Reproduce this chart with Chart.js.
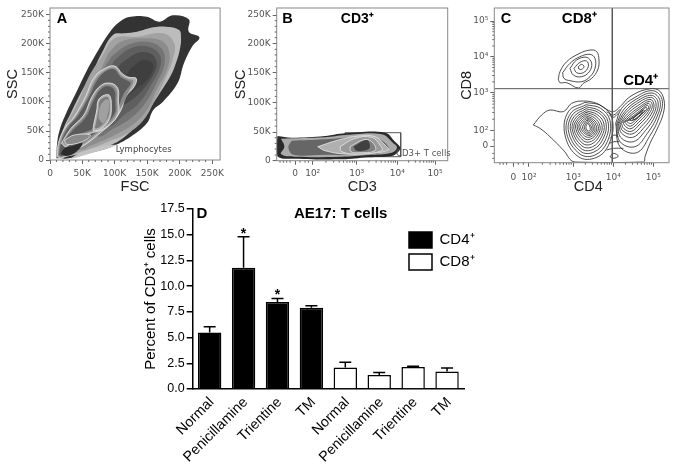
<!DOCTYPE html>
<html>
<head>
<meta charset="utf-8">
<title>AE17: T cells</title>
<script src="https://cdn.jsdelivr.net/npm/chart.js@4"></script>
<style>
  body { margin: 0; background: #fff; }
  canvas { position: absolute; }
</style>
</head>
<body>
<canvas id="panelA" width="228" height="200" style="left:0;top:0"></canvas>
<canvas id="panelB" width="224" height="200" style="left:228px;top:0"></canvas>
<canvas id="panelC" width="225" height="200" style="left:452px;top:0"></canvas>
<canvas id="panelD" width="400" height="272" style="left:130px;top:195px"></canvas>
<script>
// panel D
const categories = ["Normal", "Penicillamine", "Trientine", "TM", "Normal", "Penicillamine", "Trientine", "TM"];
const cd4Values = [5.5, 11.8, 8.45, 7.9, null, null, null, null];
const cd8Values = [null, null, null, null, 2.1, 1.35, 2.15, 1.7];
const errorsUp = [0.55, 3.0, 0.35, 0.2, 0.5, 0.25, 0.05, 0.35];
const stars = ["", "*", "*", "", "", "", "", ""];

// flow panels: axes are in display channels, counted from the top of the plot for y
const fscTicks = [150, 250, 350, 451, 552, 653];
const ssc1Ticks = [480, 393, 305, 218, 130, 44];
const kLabels = ["0", "50K", "100K", "150K", "200K", "250K"];
const cd3Ticks = [210, 263, 395, 517, 630];
const ssc2Ticks = [482, 396, 307, 218, 130, 45];
const cd4Ticks = [190, 237, 370, 490, 610];
const cd8Ticks = [438, 392, 278, 170, 63];
const logLabels = ["0", "10²", "10³", "10⁴", "10⁵"];

// panel A density bands, outermost first
const aOuter = [[170,475],[172,430],[180,390],[200,340],[230,280],[265,210],[300,150],[340,90],[370,62],[400,50],[450,50],[490,65],[530,46],[580,58],[580,95],[613,112],[590,140],[565,190],[545,250],[500,305],[470,330],[450,370],[400,410],[340,440],[270,460],[210,475]];
const aBand1 = [[176,470],[180,430],[192,385],[215,338],[250,270],[282,215],[310,160],[345,105],[380,100],[420,95],[470,82],[510,80],[550,90],[556,115],[552,150],[540,190],[525,225],[490,280],[470,310],[440,355],[400,395],[350,430],[280,452],[210,468]];
const aBand2 = [[310,170],[350,115],[420,110],[500,100],[535,130],[530,180],[510,230],[475,300],[440,360],[390,400],[330,425],[280,445],[230,460],[200,470],[180,460],[190,400],[240,300],[270,230]];
const aBand3 = [[330,160],[370,125],[440,115],[500,125],[520,160],[512,210],[480,270],[450,330],[405,375],[340,410],[280,435],[240,450],[220,440],[250,350],[290,250]];
const aBand4 = [[340,170],[390,135],[450,125],[495,145],[505,190],[480,250],[445,310],[400,355],[340,390],[300,410],[270,380],[290,290],[310,220]];
const aBand5 = [[350,180],[400,145],[455,140],[490,165],[490,205],[460,260],[425,310],[380,345],[330,380],[300,330],[310,250]];
const aBand6 = [[370,190],[420,160],[460,160],[480,185],[475,215],[445,260],[410,295],[370,320],[335,340],[330,270],[345,225]];
const aBand7 = [[400,205],[440,180],[470,195],[455,235],[420,265],[385,285],[380,240]];
const aLobe1 = [[172,470],[176,430],[195,385],[225,350],[260,290],[285,235],[315,208],[350,198],[375,222],[395,232],[417,235],[412,258],[385,290],[370,330],[345,365],[310,395],[265,430],[220,455],[185,475]];
const aLobe1b = [[175,467],[180,430],[200,385],[231,348],[265,291],[290,239],[318,212],[349,203],[372,227],[392,237],[408,242],[395,272],[372,318],[340,363],[305,392],[262,426],[218,451],[187,471]];
const aLobe1c = [[178,465],[184,430],[205,385],[238,345],[270,292],[295,242],[320,215],[348,208],[370,232],[390,242],[400,250],[378,282],[360,325],[335,360],[300,390],[258,422],[215,448],[188,468]];
const aLobe2 = [[185,430],[215,385],[255,345],[280,290],[310,255],[340,250],[360,265],[362,300],[360,345],[320,385],[275,400],[230,415],[200,440]];
const aLobe2b = [[190,425],[218,387],[258,347],[284,293],[311,259],[338,255],[355,268],[357,301],[355,342],[318,380],[272,396],[229,410],[202,434]];
const aLobe2c = [[195,420],[222,390],[262,350],[288,296],[312,264],[336,260],[350,272],[352,302],[350,340],[315,375],[270,392],[228,406]];
const aLobe3 = [[285,375],[295,330],[300,300],[320,285],[335,287],[340,320],[335,355],[310,385],[285,392]];
const aLobe3b = [[292,372],[300,330],[304,303],[321,291],[331,293],[335,320],[330,352],[308,378],[290,385]];
const aLobe4 = [[300,355],[305,320],[320,300],[332,300],[330,340],[315,370]];
const aLow1 = [[195,420],[225,405],[275,405],[260,420],[225,432],[200,432]];
const aLow2 = [[183,462],[195,445],[220,438],[250,430],[232,455],[200,468]];
const aLow3 = [[240,460],[300,440],[352,434],[340,442],[270,462],[215,476]];

// panel B density bands
const bOuter = [[157,408],[200,413],[300,408],[360,400],[480,398],[510,425],[526,443],[520,455],[500,468],[430,472],[350,478],[210,476],[158,470],[155,440]];
const bBand1 = [[168,416],[300,412],[360,405],[470,403],[505,430],[516,443],[500,458],[430,465],[350,470],[210,470],[168,462],[178,440]];
const bBand2 = [[200,422],[300,418],[400,410],[450,412],[490,440],[480,456],[400,464],[300,464],[205,464],[190,442]];
const bLobe1 = [[278,440],[340,420],[400,408],[450,410],[480,435],[490,450],[440,460],[360,462],[300,452]];
const bLobe2 = [[345,440],[390,415],[440,412],[465,435],[470,452],[400,462],[350,455]];
const bLobe3 = [[375,440],[420,418],[445,430],[450,452],[400,458],[378,455]];
const bLobe4 = [[385,440],[425,420],[435,440],[425,450],[395,452]];
const bGate = [[360,398],[527,398],[527,470],[360,470],[360,398]];

// panel C contour lines
const cOuter = [[250,375],[275,345],[300,330],[340,335],[365,310],[400,303],[440,310],[470,328],[490,335],[510,320],[540,290],[590,268],[625,270],[642,300],[640,340],[620,390],[600,430],[585,470],[580,486],[375,486],[340,450],[300,410],[270,385]];
const cTop1 = [[325,238],[330,215],[350,185],[385,162],[420,150],[440,155],[447,180],[443,210],[425,235],[400,250],[385,264],[350,248],[330,248]];
const cTop2 = [[338,218],[360,190],[390,170],[420,163],[435,175],[435,205],[420,230],[395,245],[360,242],[342,235]];
const cTop3 = [[360,205],[380,180],[410,172],[425,190],[418,215],[395,230],[370,225]];
const cTop4 = [[372,205],[390,187],[410,183],[415,200],[400,218],[380,218]];
const cTop5 = [[385,200],[395,193],[402,200],[395,208],[387,207]];
const cLeft1 = [[405,307],[455,318],[487,358],[478,430],[440,472],[385,470],[345,405],[355,335]];
const cLeft2 = [[408,314],[452,325],[480,362],[472,425],[435,465],[390,462],[350,400],[362,340]];
const cLeft3 = [[408,320],[448,332],[474,365],[466,420],[432,456],[392,454],[356,396],[367,345]];
const cLeft4 = [[408,326],[446,338],[468,368],[460,415],[430,448],[394,446],[362,392],[372,350]];
const cLeft5 = [[408,332],[442,344],[462,372],[455,410],[428,440],[396,438],[367,390],[377,354]];
const cLeft6 = [[408,337],[438,349],[456,376],[450,405],[425,432],[398,430],[372,388],[381,358]];
const cLeft7 = [[408,342],[434,354],[450,378],[445,402],[424,424],[400,422],[377,385],[385,361]];
const cLeft8 = [[408,347],[430,358],[445,380],[440,400],[422,417],[402,415],[382,384],[389,364]];
const cLeft9 = [[409,352],[428,362],[440,382],[436,398],[421,411],[404,408],[387,383],[393,367]];
const cLeft10 = [[410,356],[426,366],[435,384],[432,396],[420,406],[406,402],[392,383],[397,370]];
const cLeft11 = [[411,360],[424,370],[430,385],[428,394],[419,402],[408,398],[398,384],[402,372]];
const cLeft12 = [[412,365],[421,374],[426,386],[424,392],[418,398],[410,394],[403,384],[406,374]];
const cLeft13 = [[413,370],[419,378],[421,387],[420,391],[416,393],[411,390],[408,384],[409,376]];
const cRight1 = [[497,370],[515,325],[555,292],[608,272],[636,298],[628,350],[598,410],[560,458],[510,440]];
const cRight2 = [[500,372],[520,330],[558,298],[606,279],[630,302],[622,348],[592,400],[555,440],[510,425]];
const cRight3 = [[503,372],[524,335],[560,304],[604,286],[624,306],[616,346],[586,392],[550,425],[512,412]];
const cRight4 = [[506,372],[528,338],[562,310],[602,292],[618,310],[610,344],[580,385],[548,412],[515,400]];
const cRight5 = [[510,372],[532,342],[565,316],[600,298],[612,314],[604,342],[575,378],[546,402],[518,392]];
const cRight6 = [[514,370],[536,346],[567,322],[598,304],[607,316],[598,340],[570,372],[544,394],[522,386]];
const cRight7 = [[519,368],[540,349],[568,327],[595,310],[601,319],[592,339],[566,367],[543,386],[527,380]];
const cRight8 = [[524,366],[544,352],[570,332],[592,316],[596,323],[586,338],[562,362],[543,378],[532,375]];
const cRight9 = [[530,364],[548,354],[571,336],[588,322],[591,327],[580,338],[560,357],[544,370],[536,369]];
const cRight10 = [[538,360],[552,350],[568,338],[580,330],[584,332],[574,342],[558,355],[546,362]];
const cRight11 = [[548,358],[558,348],[572,338],[578,335],[570,345],[556,358]];
const cSmall = [[480,470],[490,460],[505,468],[490,475]];
const cBridge1 = [[470,335],[490,345],[510,328]];
const cBridge2 = [[478,345],[490,352],[505,340]];
const cBridge3 = [[480,415],[492,405],[505,410]];
const cBridge4 = [[478,430],[492,425],[508,425]];
const cBridge5 = [[470,450],[490,445],[520,445]];
const cVertical = [[487,24],[487,488]];
const cHorizontal = [[133,266],[657,266]];

const WHITE = "#e8e8e8";
const bandsA = [
    [aOuter, "#333333"], [aBand1, "#bcbcbc"], [aBand2, "#a2a2a2"], [aBand3, "#8c8c8c"],
    [aBand4, "#747474"], [aBand5, "#5f5f5f"], [aBand6, "#4b4b4b"], [aBand7, "#3f3f3f"],
    [aLobe1, "#b0b0b0", WHITE], [aLobe1b, "#8a8a8a"], [aLobe1c, "#5c5c5c"],
    [aLobe2, "#aaaaaa", WHITE], [aLobe2b, "#858585"], [aLobe2c, "#5a5a5a"],
    [aLobe3, "#b0b0b0", WHITE], [aLobe3b, "#7c7c7c"], [aLobe4, "#a0a0a0"],
    [aLow3, "#c4c4c4"], [aLow1, "#8a8a8a", WHITE], [aLow2, "#2c2c2c"]
];
const bandsB = [
    [bOuter, "#2a2a2a"], [bBand1, "#aaaaaa"], [bBand2, "#666666"], [bLobe1, "#b0b0b0", WHITE],
    [bLobe2, "#9a9a9a", WHITE], [bLobe3, "#808080", WHITE], [bLobe4, "#404040"]
];
const closedContoursC = [
    cOuter, cTop1, cTop2, cTop3, cTop4, cTop5, cLeft1, cLeft2, cLeft3, cLeft4, cLeft5, cLeft6, cLeft7,
    cLeft8, cLeft9, cLeft10, cLeft11, cLeft12, cLeft13, cRight1, cRight2, cRight3, cRight4, cRight5,
    cRight6, cRight7, cRight8, cRight9, cRight10, cRight11, cSmall
];
const openContoursC = [cBridge1, cBridge2, cBridge3, cBridge4, cBridge5];

const SANS = "'Liberation Sans', Arial, sans-serif";
const TICK_FONT = "'DejaVu Sans', sans-serif";

function asPoints(shape) {
    return shape.map(([x, y]) => ({ x, y }));
}

function closed(shape) {
    return asPoints([...shape, shape[0]]);
}

function filledBand([shape, color, edge]) {
    return {
        data: closed(shape),
        showLine: true,
        fill: "shape",
        backgroundColor: color,
        borderColor: edge || color,
        borderWidth: edge ? 0.8 : 0,
        tension: 0.4,
        pointRadius: 0
    };
}

function contourLine(points) {
    return {
        data: points,
        showLine: true,
        fill: false,
        borderColor: "#222",
        borderWidth: 0.8,
        tension: 0.4,
        pointRadius: 0
    };
}

function straightLine(shape, color, width) {
    return { data: asPoints(shape), showLine: true, fill: false, borderColor: color, borderWidth: width, tension: 0, pointRadius: 0 };
}

function logMinors(decades) {
    const marks = [];
    for (let i = 0; i < decades.length - 1; i++) {
        for (let m = 2; m < 10; m++) {
            marks.push(decades[i] + (decades[i + 1] - decades[i]) * Math.log10(m));
        }
    }
    return marks;
}

// frame, short minor ticks and free text of a flow panel
function panelExtras(minorX, minorY, texts) {
    return {
        id: "panelExtras",
        afterDatasetsDraw(chart) {
            const { ctx, chartArea: a, scales } = chart;
            ctx.save();
            ctx.strokeStyle = "#888";
            ctx.lineWidth = 1;
            ctx.strokeRect(a.left, a.top, a.right - a.left, a.bottom - a.top);
            ctx.strokeStyle = "#666";
            ctx.beginPath();
            minorX.forEach(v => {
                const x = scales.x.getPixelForValue(v);
                ctx.moveTo(x, a.bottom);
                ctx.lineTo(x, a.bottom + 2);
            });
            minorY.forEach(v => {
                const y = scales.y.getPixelForValue(v);
                ctx.moveTo(a.left, y);
                ctx.lineTo(a.left - 2, y);
            });
            ctx.stroke();
            texts.forEach(t => {
                ctx.font = t.font;
                ctx.fillStyle = t.color || "#000";
                ctx.textAlign = "center";
                ctx.textBaseline = "middle";
                ctx.fillText(t.text, scales.x.getPixelForValue(t.x), scales.y.getPixelForValue(t.y));
            });
            ctx.restore();
        }
    };
}

function flowAxis(range, positions, labels, title, fixSize, reverse, titlePadding, tickPadding) {
    return {
        type: "linear",
        min: range[0],
        max: range[1],
        reverse,
        afterBuildTicks(scale) { scale.ticks = positions.map(value => ({ value })); },
        afterFit: fixSize,
        grid: { drawOnChartArea: false, tickLength: 4, color: "#666" },
        border: { display: false },
        ticks: {
            autoSkip: false,
            maxRotation: 0,
            padding: tickPadding,
            color: "#555",
            font: { family: TICK_FONT, size: 9 },
            callback: value => labels[positions.indexOf(value)]
        },
        title: { display: !!title, text: title, color: "#222", font: { family: SANS, size: 14.5 }, padding: titlePadding }
    };
}

function flowChart(id, datasets, padding, x, y, extras) {
    new Chart(document.getElementById(id), {
        type: "scatter",
        data: { datasets },
        options: {
            responsive: false,
            animation: false,
            layout: { autoPadding: false, padding },
            plugins: { legend: { display: false }, tooltip: { enabled: false } },
            scales: { x, y }
        },
        plugins: [extras]
    });
}

const boldLetter = "bold 14.5px " + SANS;
const boldLabel = "bold 14px " + SANS;
const smallText = "8.5px " + TICK_FONT;

flowChart("panelA", bandsA.map(filledBand).reverse(), { top: 8, right: 2.3 },
    flowAxis([150, 677], fscTicks, kLabels, "FSC", s => { s.height = 40; }, false, { top: 3, bottom: 4 }, 4),
    flowAxis([24, 480], ssc1Ticks, kLabels, "SSC", s => { s.width = 50; }, true, { top: 4, bottom: 1 }, 2),
    panelExtras(
        [170, 190, 210, 230, 270, 290, 310, 330, 370, 390, 410, 430, 471, 491, 511, 531, 572, 592, 612, 632],
        [463, 445, 428, 410, 375, 358, 340, 323, 288, 270, 253, 235, 200, 183, 165, 148, 113, 96, 79, 61],
        [
            { text: "A", x: 187, y: 58, font: boldLetter },
            { text: "Lymphocytes", x: 440, y: 450, font: smallText, color: "#444" }
        ]
    )
);

// the gate goes last so the density covers its left side
flowChart("panelB", bandsB.map(filledBand).reverse().concat([straightLine(bGate, "#555", 1)]), { top: 8, right: 4.3 },
    flowAxis([155, 668], cd3Ticks, logLabels, "CD3", s => { s.height = 39.3; }, false, { top: 3, bottom: 4 }, 4),
    flowAxis([24, 482], ssc2Ticks, kLabels, "SSC", s => { s.width = 48.7; }, true, { top: 4, bottom: 1 }, 2),
    panelExtras(
        logMinors([263, 395, 517, 630]).concat([165, 175, 185, 195, 225, 240, 250]),
        [465, 447, 430, 413, 378, 360, 342, 325, 289, 271, 254, 236, 200, 183, 165, 148, 113, 96, 79, 62],
        [
            { text: "B", x: 187, y: 58, font: boldLetter },
            { text: "CD3⁺", x: 397, y: 58, font: boldLabel },
            { text: "CD3+ T cells", x: 595, y: 462, font: smallText, color: "#555" }
        ]
    )
);

flowChart("panelC",
    [straightLine(cVertical, "#555", 1), straightLine(cHorizontal, "#555", 1)]
        .concat(closedContoursC.map(s => contourLine(closed(s))), openContoursC.map(s => contourLine(asPoints(s)))),
    { top: 8, right: 8 },
    flowAxis([133, 657], cd4Ticks, logLabels, "", s => { s.height = 37.3; }, false, { top: 0, bottom: 0 }, 6),
    flowAxis([24, 488], cd8Ticks, logLabels, "CD8", s => { s.width = 42.3; }, true, { top: 6, bottom: 1 }, 2),
    panelExtras(
        logMinors([237, 370, 490, 610]).concat([150, 160, 170, 205, 220]),
        logMinors([392, 278, 170, 63]).concat([420, 460, 475]),
        [
            { text: "C", x: 168, y: 58, font: boldLetter },
            { text: "CD8⁺", x: 388, y: 56, font: "bold 15px " + SANS },
            { text: "CD4⁺", x: 572, y: 243, font: "bold 15px " + SANS },
            { text: "CD4", x: 415, y: 560, font: "14.5px " + SANS, color: "#222" }
        ]
    )
);

const errorBars = {
    id: "errorBars",
    afterLayout(chart) {
        const legend = chart.legend;
        legend.left = 273;
        legend.right = 273 + legend.width;
        legend.top = 31;
        legend.bottom = 31 + legend.height;
    },
    afterDatasetsDraw(chart) {
        const { ctx, scales } = chart;
        const values = [cd4Values, cd8Values];
        ctx.save();
        ctx.strokeStyle = "#000";
        ctx.lineWidth = 1.5;
        values.forEach((series, d) => {
            const bars = chart.getDatasetMeta(d).data;
            series.forEach((value, i) => {
                if (value === null) return;
                const x = bars[i].x;
                const top = scales.y.getPixelForValue(value + errorsUp[i]);
                ctx.beginPath();
                ctx.moveTo(x, scales.y.getPixelForValue(value));
                ctx.lineTo(x, top);
                ctx.moveTo(x - 6, top);
                ctx.lineTo(x + 6, top);
                ctx.stroke();
                if (stars[i]) {
                    ctx.fillStyle = "#000";
                    ctx.font = "bold 14px " + SANS;
                    ctx.textAlign = "center";
                    ctx.textBaseline = "middle";
                    ctx.fillText(stars[i], x, top - 3);
                }
            });
        });
        ctx.font = "bold 15px " + SANS;
        ctx.fillStyle = "#000";
        ctx.textAlign = "center";
        ctx.textBaseline = "middle";
        ctx.fillText("AE17: T cells", 210.7, 19);
        ctx.fillText("D", 72, 19);
        ctx.restore();
    }
};

new Chart(document.getElementById("panelD"), {
    type: "bar",
    data: {
        labels: categories,
        datasets: [
            { label: "CD4⁺", data: cd4Values, backgroundColor: "#000", borderColor: "#000", borderWidth: 1.5 },
            { label: "CD8⁺", data: cd8Values, backgroundColor: "#fff", borderColor: "#000", borderWidth: 1.5 }
        ]
    },
    options: {
        responsive: false,
        animation: false,
        barPercentage: 0.69,
        categoryPercentage: 1,
        layout: { autoPadding: false, padding: { top: 14, right: 66 } },
        plugins: {
            tooltip: { enabled: false },
            legend: {
                position: "chartArea",
                align: "start",
                labels: { boxWidth: 23, boxHeight: 16, padding: 6, color: "#000", font: { family: SANS, size: 15 } }
            }
        },
        scales: {
            x: {
                stacked: true,
                afterFit(s) { s.height = 78; },
                grid: { display: false },
                border: { color: "#000", width: 1.5 },
                ticks: {
                    autoSkip: false,
                    minRotation: 45,
                    maxRotation: 45,
                    padding: -3,
                    labelOffset: 2,
                    color: "#000",
                    font: { family: SANS, size: 14.3 }
                }
            },
            y: {
                stacked: true,
                min: 0,
                max: 17.5,
                afterFit(s) { s.width = 62.7; },
                grid: { drawOnChartArea: false, color: "#000", lineWidth: 1.5, tickLength: 6 },
                border: { color: "#000", width: 1.5 },
                ticks: {
                    stepSize: 2.5,
                    padding: 2,
                    color: "#000",
                    font: { family: SANS, size: 12.5 },
                    callback: value => value.toFixed(1)
                },
                title: {
                    display: true,
                    text: "Percent of CD3⁺ cells",
                    color: "#000",
                    font: { family: SANS, size: 15 },
                    padding: { top: 12, bottom: 2 }
                }
            }
        }
    },
    plugins: [errorBars]
});
</script>
</body>
</html>
